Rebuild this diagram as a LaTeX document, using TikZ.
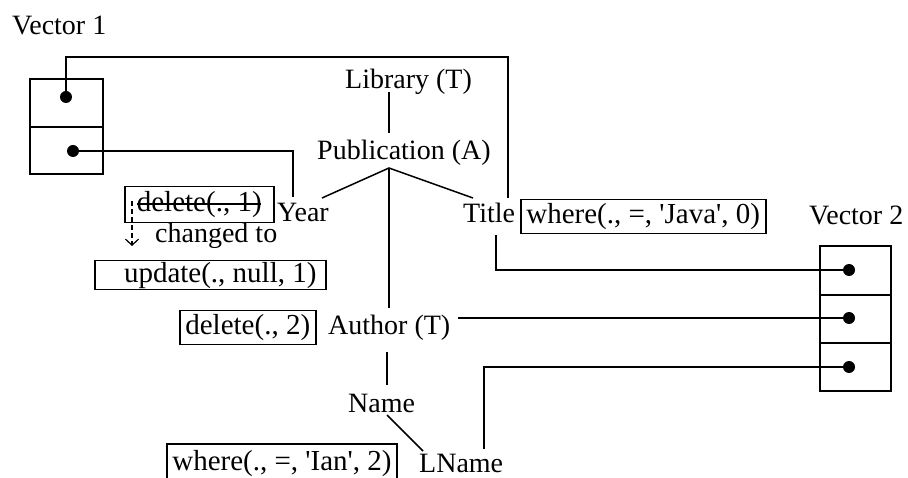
\documentclass[tikz,border=0pt]{standalone}
\usepackage{fontspec}
\setmainfont{Liberation Serif}[Ligatures=TeXOff]
\usetikzlibrary{arrows.meta}
\begin{document}
\begin{tikzpicture}[x=1pt,y=-1pt,
  lbl/.style={inner sep=0pt, anchor=base west, font=\fontsize{28}{34}\selectfont},
  opbox/.style={draw, line width=1.5pt, inner sep=0pt, anchor=north west,
                font=\fontsize{29}{35}\selectfont},
  optext/.style={inner sep=0pt, anchor=base, font=\fontsize{29}{35}\selectfont},
  wire/.style={line width=1.5pt},
  cell/.style={line width=1.7pt},
  dot/.style={fill, circle, inner sep=0pt, minimum size=12pt}]
\useasboundingbox (0,0) rectangle (908,478);

% ---------- Vector 1 ----------
\node[lbl] (v1lbl) at (12,35) {Vector 1};
\draw[cell] (30,79) rectangle (103,174);
\draw[cell] (30,127) -- (103,127);
\node[dot] (d1a) at (66,97) {};
\node[dot] (d1b) at (73,151) {};

% ---------- Vector 2 ----------
\node[lbl] (v2lbl) at (809,225) {Vector 2};
\draw[cell] (820,246) rectangle (891,391);
\draw[cell] (820,295) -- (891,295);
\draw[cell] (820,343) -- (891,343);
\node[dot] (d2a) at (849,270) {};
\node[dot] (d2b) at (849,318) {};
\node[dot] (d2c) at (849,367) {};

% ---------- schema tree ----------
\node[lbl] (lib)   at (345,89)  {Library (T)};
\node[lbl] (pub)   at (317,160) {Publication (A)};
\node[lbl] (year)  at (277,222) {Year};
\node[lbl] (title) at (463,223) {Title};
\node[lbl] (auth)  at (328,335) {Author (T)};
\node[lbl] (name)  at (348,412) {Name};
\node[lbl] (lname) at (419,472) {LName};

\coordinate (libBot)   at (389,92);
\coordinate (pubTop)   at (389,133);
\coordinate (apex)     at (389,168);
\coordinate (yearTip)  at (322,198);
\coordinate (titleTip) at (473,198);
\coordinate (authTop)  at (389,308);
\coordinate (authBot)  at (387,352);
\coordinate (nameTop)  at (387,385);
\coordinate (nameBot)  at (387,415);
\coordinate (lnameTip) at (423,451);

\draw[wire] (libBot) -- (pubTop);
\draw[wire] (yearTip) -- (apex) -- (titleTip);
\draw[wire] (apex) -- (authTop);
\draw[wire] (authBot) -- (nameTop);
\draw[wire] (nameBot) -- (lnameTip);

% ---------- operation boxes ----------
\node[opbox, minimum width=149pt, minimum height=36pt] (del1) at (124,186) {delete(., 1)};
% strike-through of the cancelled operation
\coordinate (strikeL) at (137,204);
\coordinate (strikeR) at (261,204);
\draw[line width=1.3pt] (strikeL) -- (strikeR);

\node[lbl] (chg) at (155,243) {changed to};
\node[opbox, minimum width=231pt, minimum height=29pt] (upd) at (94,260) {\hspace*{20pt}update(., null, 1)};
\node[opbox, minimum width=245pt, minimum height=34pt] (wjava) at (520,199) {where(., =, 'Java', 0)};
\node[opbox, minimum width=136pt, minimum height=34pt] (del2) at (179,310) {delete(., 2)};

% last box runs off the lower edge: only its top and sides show
\node[optext] (wian) at (282,470) {where(., =, 'Ian', 2)};
\coordinate (wianBL) at (167,480);
\coordinate (wianTL) at (167,444);
\coordinate (wianTR) at (397,444);
\coordinate (wianBR) at (397,480);
\draw[line width=1.5pt] (wianBL) -- (wianTL) -- (wianTR) -- (wianBR);

\coordinate (chgTop) at (132,201);
\coordinate (chgTip) at (132,246);
\draw[line width=1.2pt, dash pattern=on 5pt off 3pt,
      -{Straight Barb[length=6pt,width=13pt,line width=1.2pt]}] (chgTop) -- (chgTip);

% ---------- pointers from the vectors ----------
\coordinate (e1a) at (66,57);
\coordinate (e1b) at (508,57);
\coordinate (titleTop) at (508,198);
\draw[wire] (d1a.center) -- (e1a) -- (e1b) -- (titleTop);

\coordinate (e2a) at (293,151);
\coordinate (yearTop) at (293,197);
\draw[wire] (d1b.center) -- (e2a) -- (yearTop);

\coordinate (titleBot) at (496,235);
\coordinate (e3a) at (496,270);
\draw[wire] (titleBot) -- (e3a) -- (d2a.center);

\coordinate (authEnd) at (458,318);
\draw[wire] (authEnd) -- (d2b.center);

\coordinate (e4a) at (484,367);
\coordinate (lnameTop) at (484,449);
\draw[wire] (d2c.center) -- (e4a) -- (lnameTop);
\end{tikzpicture}
\end{document}
